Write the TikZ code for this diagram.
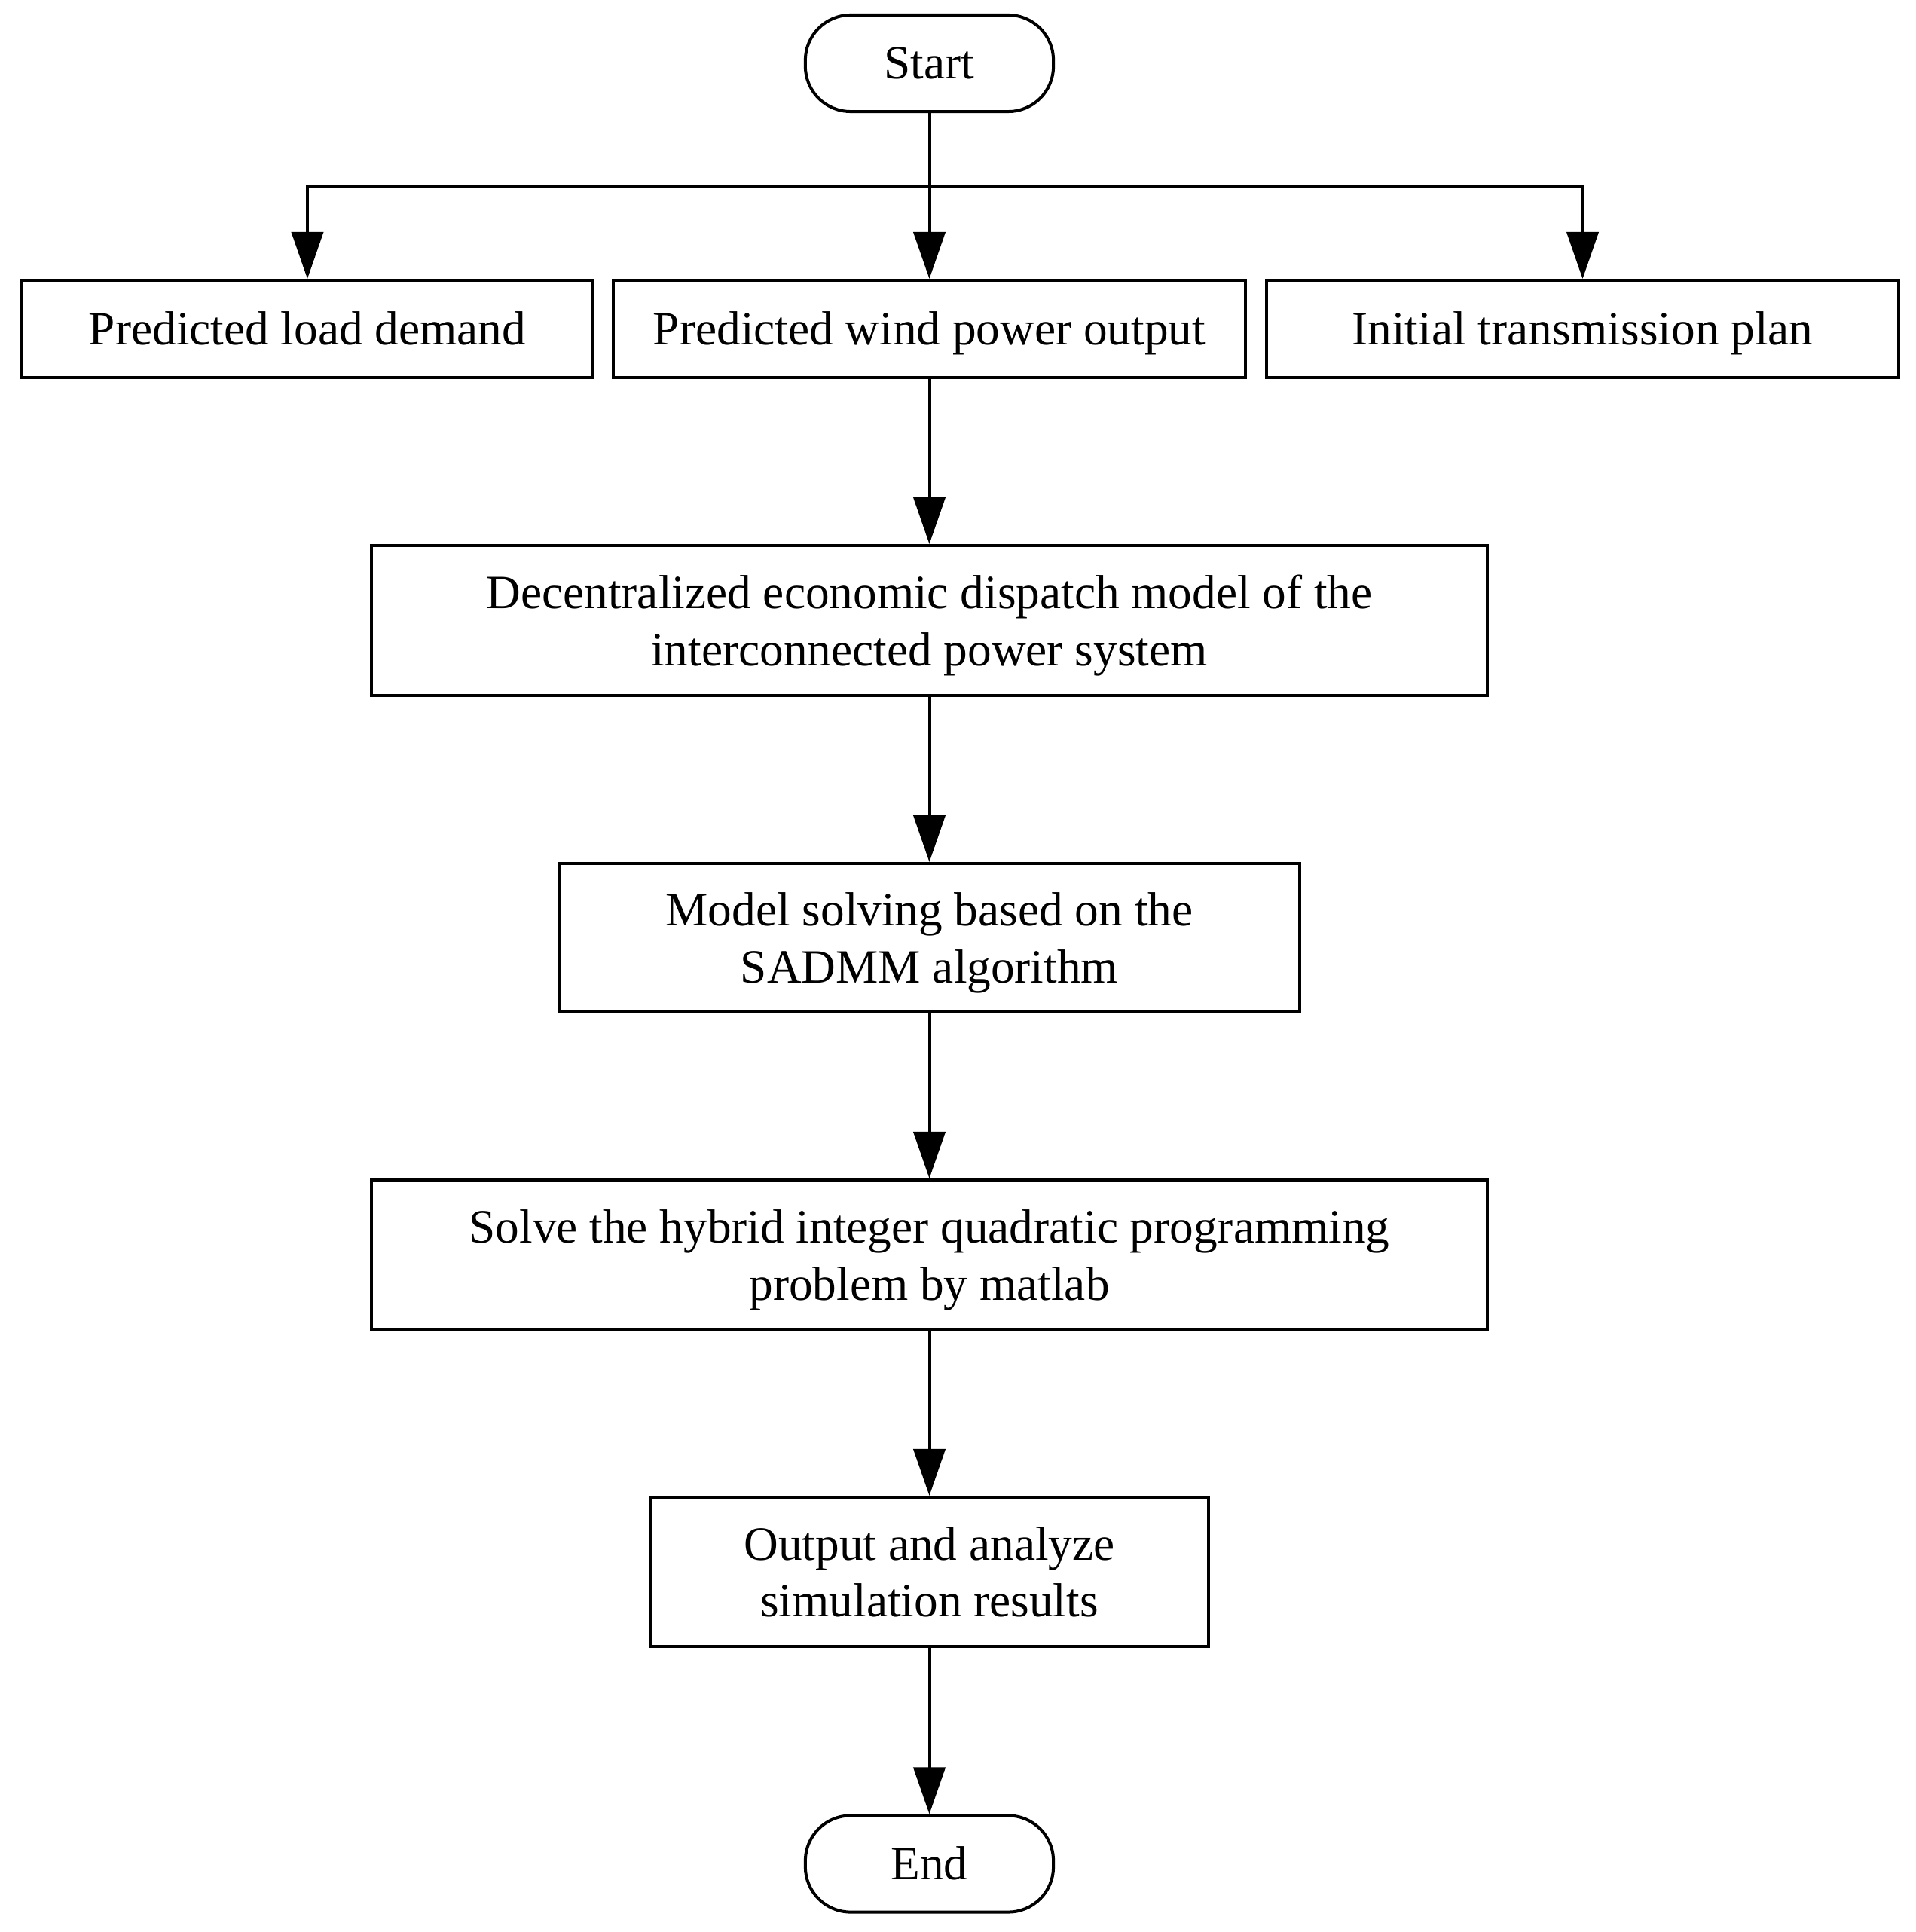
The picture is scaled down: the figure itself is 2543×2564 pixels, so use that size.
\documentclass[tikz,border=0pt]{standalone}
\usepackage{fontspec}
\setmainfont{Liberation Serif}
\usetikzlibrary{arrows.meta}
\begin{document}
\begin{tikzpicture}[x=0.01cm,y=-0.01cm,
  every node/.style={font=\fontsize{18pt}{21.6pt}\selectfont, align=center, inner sep=0pt, text depth=0pt},
  oneline/.style={text height=0.41cm},
  boxnode/.style={draw, line width=0.04cm, rectangle},
  termnode/.style={draw, line width=0.04cm, rectangle, rounded corners=0.6cm, minimum width=3.29cm, minimum height=1.28cm, oneline},
  arr/.style={line width=0.04cm, -{Triangle[length=0.62cm,width=0.42cm]}},
  ln/.style={line width=0.04cm}]
\useasboundingbox (0,0) rectangle (2543,2564);
\node[termnode] (start) at (1233.5,84) {Start};
\node[boxnode, oneline, minimum width=7.58cm, minimum height=1.29cm] (b1) at (408,436.5) {Predicted load demand};
\node[boxnode, oneline, minimum width=8.39cm, minimum height=1.29cm] (b2) at (1233.5,436.5) {Predicted wind power output};
\node[boxnode, oneline, minimum width=8.39cm, minimum height=1.29cm] (b3) at (2100.5,436.5) {Initial transmission plan};
\node[boxnode, minimum width=14.80cm, minimum height=1.99cm] (b4) at (1233.5,823.5) {Decentralized economic dispatch model of the\\interconnected power system};
\node[boxnode, minimum width=9.83cm, minimum height=1.97cm] (b5) at (1233.5,1244.5) {Model solving based on the\\SADMM algorithm};
\node[boxnode, minimum width=14.80cm, minimum height=1.99cm] (b6) at (1233.5,1665.5) {Solve the hybrid integer quadratic programming\\problem by matlab};
\node[boxnode, minimum width=7.41cm, minimum height=1.98cm] (b7) at (1233.5,2086) {Output and analyze\\simulation results};
\node[termnode] (end) at (1233.5,2473.5) {End};
\coordinate (br) at (1233.5,248);
\draw[arr] (start) -- (b2);
\draw[arr] (br) -| (b1.north);
\draw[arr] (br) -| (b3.north);
\draw[arr] (b2) -- (b4);
\draw[arr] (b4) -- (b5);
\draw[arr] (b5) -- (b6);
\draw[arr] (b6) -- (b7);
\draw[arr] (b7) -- (end);
\end{tikzpicture}
\end{document}
